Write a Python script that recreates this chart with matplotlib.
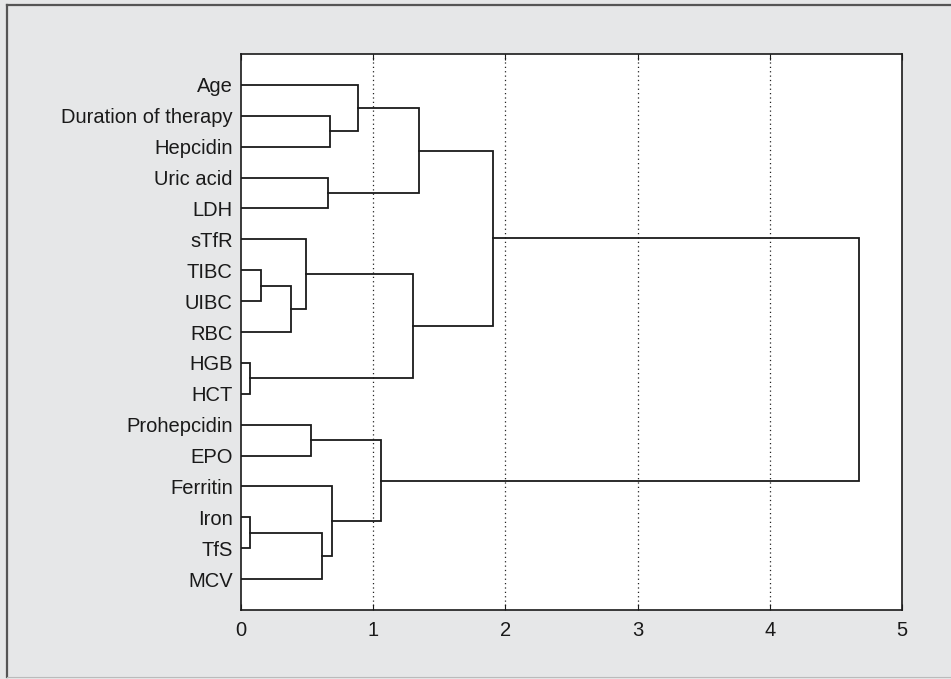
import matplotlib

matplotlib.use('Agg')

import matplotlib.pyplot as plt
from matplotlib.lines import Line2D

plt.rcParams['font.family'] = ['Liberation Sans', 'DejaVu Sans']

# leaves, top to bottom
leaves = ['Age', 'Duration of therapy', 'Hepcidin', 'Uric acid', 'LDH',
          'sTfR', 'TIBC', 'UIBC', 'RBC', 'HGB', 'HCT',
          'Prohepcidin', 'EPO', 'Ferritin', 'Iron', 'TfS', 'MCV']

# merges: ids 0..16 are leaves, each merge gets the next id (17, 18, ...)
merge_a = [6, 9, 14, 17, 5, 11, 19, 3, 1, 13, 0, 22, 21, 27, 30, 31]
merge_b = [7, 10, 15, 8, 20, 12, 16, 4, 2, 23, 25, 26, 18, 24, 29, 28]
merge_h = [0.151, 0.07, 0.066, 0.376, 0.489, 0.532, 0.61, 0.66, 0.675,
           0.69, 0.883, 1.059, 1.303, 1.349, 1.904, 4.675]

x_ticks = [0, 1, 2, 3, 4, 5]

fig = plt.figure(figsize=(9.51, 6.79), dpi=100)
fig.patch.set_facecolor('#e6e7e8')
ax = fig.add_axes([241 / 951, 69 / 679, 661 / 951, 556 / 679])

# node positions (y = leaf row, x = height)
pos = {i: (i + 1, 0.0) for i in range(len(leaves))}
for k, (a, b, h) in enumerate(zip(merge_a, merge_b, merge_h)):
    ya, xa = pos[a]
    yb, xb = pos[b]
    ax.plot([xa, h, h, xb], [ya, ya, yb, yb], color='#1a1a1a', lw=1.3,
            solid_joinstyle='miter')
    pos[len(leaves) + k] = ((ya + yb) / 2, h)

for x in x_ticks[1:-1]:
    ax.axvline(x, color='#222222', lw=0.9, ls=(0, (1, 2.5)), zorder=0)

ax.set_xlim(0, 5)
ax.set_ylim(len(leaves) + 1, 0)
ax.set_xticks(x_ticks)
ax.set_yticks(range(1, len(leaves) + 1))
ax.set_yticklabels(leaves)
ax.tick_params(axis='x', direction='in', top=True, length=4, width=0.8,
               labelsize=14.5, pad=8, colors='#1a1a1a')
ax.tick_params(axis='y', length=0, labelsize=14.5, pad=6, colors='#1a1a1a')
for s in ax.spines.values():
    s.set_linewidth(1.2)
    s.set_color('#1a1a1a')

# outer frame of the panel
W, H = 951, 679
fig.add_artist(Line2D([7 / W, 1], [1 - 5 / H, 1 - 5 / H], color='#555555', lw=1.6))
fig.add_artist(Line2D([7 / W, 7 / W], [1 - 5 / H, 1 - 677 / H], color='#555555', lw=1.6))
fig.add_artist(Line2D([7 / W, 1], [1 - 677 / H, 1 - 677 / H], color='#bbbbbb', lw=0.8))

fig.savefig('out.png', dpi=100, facecolor=fig.get_facecolor())
